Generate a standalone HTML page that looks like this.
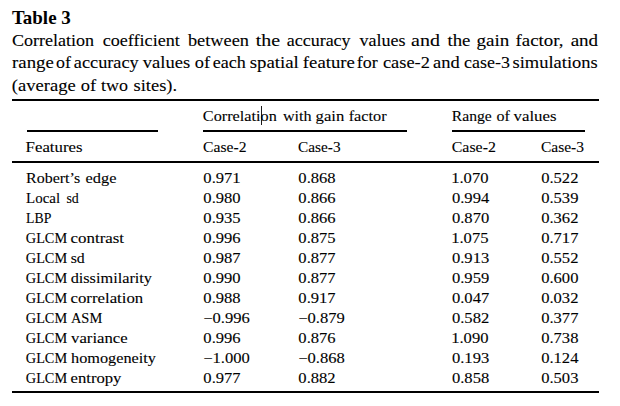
<!DOCTYPE html>
<html><head><meta charset="utf-8"><style>
html,body{margin:0;padding:0;background:#fff;}
svg{display:block;}
text{font-family:"Liberation Serif",serif;fill:#000;stroke:#000;stroke-width:0.1px;}
</style></head><body>
<svg width="620" height="406" viewBox="0 0 620 406">
<rect x="0" y="0" width="620" height="406" fill="#fff"/>
<g fill="#000"><rect x="12" y="99" width="587" height="2"/><rect x="27" y="130" width="131" height="2"/><rect x="203" y="130" width="204" height="2"/><rect x="452" y="130" width="133" height="2"/><rect x="12" y="161" width="587" height="2"/><rect x="12" y="391" width="587" height="2"/><rect x="261" y="106" width="1" height="19" fill="#1a1a1a"/></g>
<text transform="translate(11.92,24) scale(1.0547,1)" font-size="18" font-weight="bold" style="stroke:none">Table 3</text>
<text transform="translate(11.88,46.2) scale(1.0690,1)" font-size="16.9">Correlation</text>
<text transform="translate(102.68,46.2) scale(1.0724,1)" font-size="16.9">coefficient</text>
<text transform="translate(187.90,46.2) scale(1.0853,1)" font-size="16.9">between</text>
<text transform="translate(255.80,46.2) scale(1.1784,1)" font-size="16.9">the</text>
<text transform="translate(286.67,46.2) scale(1.0656,1)" font-size="16.9">accuracy</text>
<text transform="translate(359.50,46.2) scale(1.0684,1)" font-size="16.9">values</text>
<text transform="translate(411.10,46.2) scale(1.1834,1)" font-size="16.9">and</text>
<text transform="translate(447.51,46.2) scale(1.1129,1)" font-size="16.9">the</text>
<text transform="translate(476.54,46.2) scale(1.1264,1)" font-size="16.9">gain</text>
<text transform="translate(515.53,46.2) scale(1.1182,1)" font-size="16.9">factor,</text>
<text transform="translate(570.63,46.2) scale(1.1283,1)" font-size="16.9">and</text>
<text transform="translate(12.12,68.4) scale(1.1124,1)" font-size="16.9">range</text>
<text transform="translate(56.09,68.4) scale(1.0569,1)" font-size="16.9">of</text>
<text transform="translate(73.86,68.4) scale(1.0807,1)" font-size="16.9">accuracy</text>
<text transform="translate(142.70,68.4) scale(1.0989,1)" font-size="16.9">values</text>
<text transform="translate(194.87,68.4) scale(1.0867,1)" font-size="16.9">of</text>
<text transform="translate(212.68,68.4) scale(1.0704,1)" font-size="16.9">each</text>
<text transform="translate(249.75,68.4) scale(1.1138,1)" font-size="16.9">spatial</text>
<text transform="translate(302.84,68.4) scale(1.1092,1)" font-size="16.9">feature</text>
<text transform="translate(356.86,68.4) scale(1.0625,1)" font-size="16.9">for</text>
<text transform="translate(382.97,68.4) scale(1.0872,1)" font-size="16.9">case-2</text>
<text transform="translate(433.05,68.4) scale(1.0944,1)" font-size="16.9">and</text>
<text transform="translate(464.08,68.4) scale(1.0615,1)" font-size="16.9">case-3</text>
<text transform="translate(512.46,68.4) scale(1.0947,1)" font-size="16.9">simulations</text>
<text transform="translate(11.76,90.6) scale(1.0989,1)" font-size="16.9">(average</text>
<text transform="translate(80.76,90.6) scale(1.0941,1)" font-size="16.9">of</text>
<text transform="translate(101.12,90.6) scale(1.0651,1)" font-size="16.9">two</text>
<text transform="translate(133.56,90.6) scale(1.0916,1)" font-size="16.9">sites).</text>
<text transform="translate(202.85,121) scale(1.1126,1)" font-size="14.6">Correlation</text>
<text transform="translate(282.90,121) scale(1.1099,1)" font-size="14.6">with</text>
<text transform="translate(315.55,121) scale(1.1429,1)" font-size="14.6">gain</text>
<text transform="translate(348.71,121) scale(1.1132,1)" font-size="14.6">factor</text>
<text transform="translate(451.83,121) scale(1.0728,1)" font-size="14.6">Range</text>
<text transform="translate(496.56,121) scale(1.1028,1)" font-size="14.6">of</text>
<text transform="translate(513.50,121) scale(1.1524,1)" font-size="14.6">values</text>
<text transform="translate(25.60,152) scale(1.1512,1)" font-size="14.6">Features</text>
<text transform="translate(203.07,152) scale(1.0708,1)" font-size="14.6">Case-2</text>
<text transform="translate(298.09,152) scale(1.0477,1)" font-size="14.6">Case-3</text>
<text transform="translate(451.76,152) scale(1.0887,1)" font-size="14.6">Case-2</text>
<text transform="translate(540.98,152) scale(1.0629,1)" font-size="14.6">Case-3</text>
<text transform="translate(26.02,183) scale(1.0959,1)" font-size="14.6">Robert’s</text>
<text transform="translate(85.55,183) scale(1.1208,1)" font-size="14.6">edge</text>
<text transform="translate(203.34,183) scale(1.1363,1)" font-size="14.6">0.971</text>
<text transform="translate(298.34,183) scale(1.1363,1)" font-size="14.6">0.868</text>
<text transform="translate(451.19,183) scale(1.1363,1)" font-size="14.6">1.070</text>
<text transform="translate(541.14,183) scale(1.1363,1)" font-size="14.6">0.522</text>
<text transform="translate(26.05,203) scale(1.0251,1)" font-size="14.6">Local</text>
<text transform="translate(66.44,203) scale(0.9515,1)" font-size="14.6">sd</text>
<text transform="translate(203.34,203) scale(1.1363,1)" font-size="14.6">0.980</text>
<text transform="translate(298.34,203) scale(1.1363,1)" font-size="14.6">0.866</text>
<text transform="translate(451.94,203) scale(1.1363,1)" font-size="14.6">0.994</text>
<text transform="translate(541.14,203) scale(1.1363,1)" font-size="14.6">0.539</text>
<text transform="translate(26.09,223) scale(0.9430,1)" font-size="14.6">LBP</text>
<text transform="translate(203.34,223) scale(1.1363,1)" font-size="14.6">0.935</text>
<text transform="translate(298.34,223) scale(1.1363,1)" font-size="14.6">0.866</text>
<text transform="translate(451.94,223) scale(1.1363,1)" font-size="14.6">0.870</text>
<text transform="translate(541.14,223) scale(1.1363,1)" font-size="14.6">0.362</text>
<text transform="translate(25.83,243) scale(0.9788,1)" font-size="14.6">GLCM</text>
<text transform="translate(70.52,243) scale(1.1591,1)" font-size="14.6">contrast</text>
<text transform="translate(203.34,243) scale(1.1363,1)" font-size="14.6">0.996</text>
<text transform="translate(298.34,243) scale(1.1363,1)" font-size="14.6">0.875</text>
<text transform="translate(451.19,243) scale(1.1363,1)" font-size="14.6">1.075</text>
<text transform="translate(541.14,243) scale(1.1363,1)" font-size="14.6">0.717</text>
<text transform="translate(25.83,263) scale(0.9788,1)" font-size="14.6">GLCM</text>
<text transform="translate(70.67,263) scale(1.0828,1)" font-size="14.6">sd</text>
<text transform="translate(203.34,263) scale(1.1363,1)" font-size="14.6">0.987</text>
<text transform="translate(298.34,263) scale(1.1363,1)" font-size="14.6">0.877</text>
<text transform="translate(451.94,263) scale(1.1363,1)" font-size="14.6">0.913</text>
<text transform="translate(541.14,263) scale(1.1363,1)" font-size="14.6">0.552</text>
<text transform="translate(25.83,283) scale(0.9788,1)" font-size="14.6">GLCM</text>
<text transform="translate(70.63,283) scale(1.1158,1)" font-size="14.6">dissimilarity</text>
<text transform="translate(203.34,283) scale(1.1363,1)" font-size="14.6">0.990</text>
<text transform="translate(298.34,283) scale(1.1363,1)" font-size="14.6">0.877</text>
<text transform="translate(451.94,283) scale(1.1363,1)" font-size="14.6">0.959</text>
<text transform="translate(541.14,283) scale(1.1363,1)" font-size="14.6">0.600</text>
<text transform="translate(25.83,303) scale(0.9788,1)" font-size="14.6">GLCM</text>
<text transform="translate(70.53,303) scale(1.1504,1)" font-size="14.6">correlation</text>
<text transform="translate(203.34,303) scale(1.1363,1)" font-size="14.6">0.988</text>
<text transform="translate(298.34,303) scale(1.1363,1)" font-size="14.6">0.917</text>
<text transform="translate(451.94,303) scale(1.1363,1)" font-size="14.6">0.047</text>
<text transform="translate(541.14,303) scale(1.1363,1)" font-size="14.6">0.032</text>
<text transform="translate(25.83,323) scale(0.9788,1)" font-size="14.6">GLCM</text>
<text transform="translate(70.96,323) scale(0.9872,1)" font-size="14.6">ASM</text>
<text transform="translate(203.17,323) scale(1.1363,1)" font-size="14.6">−0.996</text>
<text transform="translate(298.17,323) scale(1.1363,1)" font-size="14.6">−0.879</text>
<text transform="translate(451.94,323) scale(1.1363,1)" font-size="14.6">0.582</text>
<text transform="translate(541.14,323) scale(1.1363,1)" font-size="14.6">0.377</text>
<text transform="translate(25.83,343) scale(0.9788,1)" font-size="14.6">GLCM</text>
<text transform="translate(71.10,343) scale(1.1450,1)" font-size="14.6">variance</text>
<text transform="translate(203.34,343) scale(1.1363,1)" font-size="14.6">0.996</text>
<text transform="translate(298.34,343) scale(1.1363,1)" font-size="14.6">0.876</text>
<text transform="translate(451.19,343) scale(1.1363,1)" font-size="14.6">1.090</text>
<text transform="translate(541.14,343) scale(1.1363,1)" font-size="14.6">0.738</text>
<text transform="translate(25.83,363) scale(0.9788,1)" font-size="14.6">GLCM</text>
<text transform="translate(71.04,363) scale(1.1148,1)" font-size="14.6">homogeneity</text>
<text transform="translate(203.17,363) scale(1.1363,1)" font-size="14.6">−1.000</text>
<text transform="translate(298.17,363) scale(1.1363,1)" font-size="14.6">−0.868</text>
<text transform="translate(451.94,363) scale(1.1363,1)" font-size="14.6">0.193</text>
<text transform="translate(541.14,363) scale(1.1363,1)" font-size="14.6">0.124</text>
<text transform="translate(25.83,383) scale(0.9788,1)" font-size="14.6">GLCM</text>
<text transform="translate(70.53,383) scale(1.1423,1)" font-size="14.6">entropy</text>
<text transform="translate(203.34,383) scale(1.1363,1)" font-size="14.6">0.977</text>
<text transform="translate(298.34,383) scale(1.1363,1)" font-size="14.6">0.882</text>
<text transform="translate(451.94,383) scale(1.1363,1)" font-size="14.6">0.858</text>
<text transform="translate(541.14,383) scale(1.1363,1)" font-size="14.6">0.503</text>
</svg>
</body></html>
